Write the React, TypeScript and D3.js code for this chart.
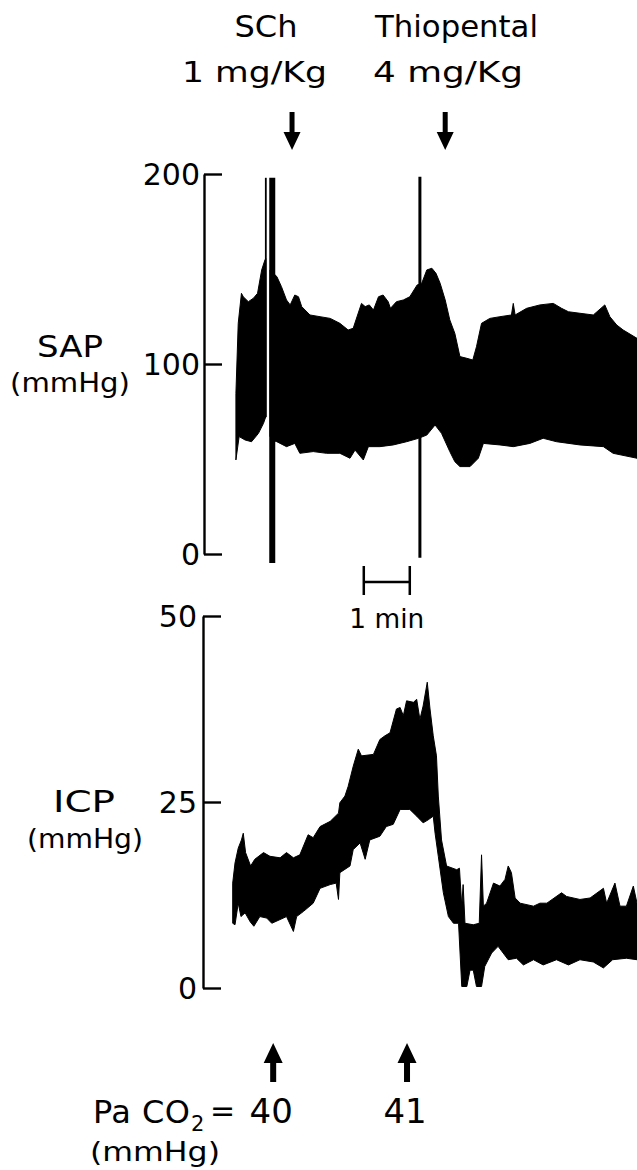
import * as d3 from "d3";
import React, { useEffect, useRef } from "react";

// time is minutes from the start of the recording, pressures in mmHg
const sapUpper: [number, number][] = [
  [0.02, 84.6], [0.07, 121.4], [0.14, 137.2], [0.18, 135.4], [0.29, 132.8],
  [0.4, 134.6], [0.49, 137.2], [0.58, 149.5], [0.65, 154.7], [0.67, 155.5],
  [0.76, 149.5], [0.91, 146.0], [1.01, 140.7], [1.12, 133.7], [1.2, 131.1],
  [1.3, 136.3], [1.38, 135.4], [1.45, 130.2], [1.63, 125.8], [1.85, 124.9],
  [2.07, 124.0], [2.28, 121.4], [2.46, 117.9], [2.57, 118.8], [2.63, 123.2],
  [2.75, 131.9], [2.83, 130.2], [2.92, 131.1], [3.01, 128.4], [3.12, 135.4],
  [3.22, 136.3], [3.33, 132.8], [3.38, 129.3], [3.51, 132.8], [3.66, 133.7],
  [3.8, 135.4], [3.96, 141.6], [4.06, 142.5], [4.17, 149.5], [4.28, 150.4],
  [4.37, 147.7], [4.46, 142.5], [4.57, 133.7], [4.67, 123.2], [4.78, 116.1],
  [4.89, 103.9], [5.04, 103.0], [5.17, 102.1], [5.25, 109.1], [5.36, 121.4],
  [5.54, 124.0], [5.76, 124.9], [6.01, 125.8], [6.05, 131.9], [6.09, 125.8],
  [6.34, 129.3], [6.63, 131.1], [6.92, 131.9], [7.1, 129.3], [7.25, 127.5],
  [7.5, 126.7], [7.79, 125.8], [8.04, 131.1], [8.15, 124.9], [8.3, 120.5],
  [8.44, 117.9], [8.74, 113.5],
];

const sapLower: [number, number][] = [
  [0.02, 49.5], [0.09, 61.8], [0.22, 60.0], [0.36, 59.1], [0.51, 63.5],
  [0.62, 68.8], [0.67, 72.3],
  [0.76, 62.0], [0.8, 60.0], [0.91, 59.1], [1.12, 56.5], [1.3, 58.2],
  [1.41, 53.0], [1.7, 53.9], [1.99, 53.0], [2.28, 53.0], [2.5, 50.4],
  [2.61, 54.7], [2.79, 49.5], [2.9, 56.5], [3.15, 56.5], [3.44, 57.4],
  [3.73, 59.1], [3.99, 60.9], [4.17, 62.6], [4.35, 67.9], [4.49, 63.5],
  [4.67, 53.9], [4.78, 48.6], [4.89, 46.0], [5.11, 46.0], [5.29, 50.4],
  [5.4, 58.2], [5.76, 57.4], [6.05, 56.5], [6.41, 58.2], [6.7, 60.9],
  [6.99, 59.1], [7.5, 57.4], [8.01, 56.5], [8.22, 53.0], [8.74, 50.4],
];

// gap in the SAP trace where the pen lifted at the SCh artefact
const sapGap = [0.67, 0.76];

// artefact spikes on the SAP trace
const sapSpikeTimes = [0.67, 0.81, 4.02];
const sapSpikeLow = [72, -4.7, -2];
const sapSpikeHigh = [198, 198, 198.5];

const icpUpper: [number, number][] = [
  [-0.05, 14.1], [0.0, 16.8], [0.07, 18.8], [0.14, 19.9], [0.18, 20.8],
  [0.23, 18.2], [0.34, 16.4], [0.43, 17.3], [0.62, 18.2], [0.76, 17.7],
  [0.98, 17.5], [1.12, 18.2], [1.27, 17.5], [1.41, 17.9], [1.59, 20.6],
  [1.7, 20.2], [1.85, 21.7], [2.07, 22.4], [2.25, 23.5], [2.28, 24.9],
  [2.39, 25.8], [2.46, 27.1], [2.57, 29.8], [2.68, 32.1], [2.75, 31.2],
  [3.01, 31.4], [3.15, 33.4], [3.26, 33.9], [3.37, 34.3], [3.51, 37.5],
  [3.59, 37.7], [3.66, 36.6], [3.73, 38.6], [3.88, 38.4], [3.95, 38.8],
  [4.02, 36.1], [4.09, 37.9], [4.18, 41.1], [4.24, 37.5], [4.31, 33.9],
  [4.38, 31.2], [4.42, 25.8], [4.49, 19.9], [4.6, 16.4], [4.82, 15.9],
  [4.88, 16.1], [4.93, 11.0], [4.96, 13.9], [5.0, 8.7], [5.18, 8.5],
  [5.31, 8.7], [5.36, 17.9], [5.4, 11.0], [5.47, 11.4], [5.62, 14.1],
  [5.76, 13.7], [5.87, 14.6], [5.94, 16.4], [6.01, 15.5], [6.09, 12.1],
  [6.2, 11.4], [6.49, 11.0], [6.63, 11.4], [6.78, 11.4], [7.1, 12.8],
  [7.21, 12.3], [7.5, 11.9], [7.72, 12.1], [8.01, 13.4], [8.08, 11.4],
  [8.26, 14.1], [8.37, 11.0], [8.51, 11.0], [8.66, 13.7], [8.74, 11.4],
];

const icpLower: [number, number][] = [
  [-0.05, 8.7], [0.0, 8.5], [0.07, 11.4], [0.13, 9.6], [0.22, 10.1],
  [0.33, 8.9], [0.41, 8.3], [0.54, 9.6], [0.69, 9.4], [0.8, 8.7],
  [0.98, 9.2], [1.12, 9.6], [1.27, 7.6], [1.34, 9.6], [1.49, 10.3],
  [1.7, 11.4], [1.85, 13.4], [2.07, 13.9], [2.2, 14.1], [2.25, 11.9],
  [2.28, 15.5], [2.5, 16.4], [2.57, 18.6], [2.72, 19.5], [2.83, 17.3],
  [2.93, 19.9], [3.15, 20.4], [3.29, 21.7], [3.44, 22.0], [3.59, 24.0],
  [3.8, 24.0], [3.95, 23.1], [4.09, 22.2], [4.2, 22.6], [4.31, 23.1],
  [4.35, 20.8], [4.42, 17.7], [4.53, 12.8], [4.64, 9.6], [4.75, 8.7],
  [4.86, 8.7], [4.93, 0.2], [5.04, 0.2], [5.11, 2.4], [5.18, 2.4],
  [5.25, 0.2], [5.36, 0.2], [5.43, 2.9], [5.58, 4.7], [5.72, 5.6],
  [5.83, 4.7], [5.94, 3.8], [6.12, 4.0], [6.27, 3.1], [6.49, 3.8],
  [6.7, 3.1], [6.99, 3.8], [7.25, 3.1], [7.5, 3.8], [7.79, 3.5],
  [8.01, 2.7], [8.21, 3.8], [8.51, 4.0], [8.74, 3.8],
];

const sapTicks = [0, 100, 200];
const icpTicks = [0, 25, 50];

// drug injections (arrows on top)
const drugTimes = [1.24, 4.57];
// arterial blood gas samples (arrows at bottom)
const paco2Times = [0.83, 3.74];
const paco2Values = ["40", "41"];

const scaleBarStart = 2.8;
const scaleBarMinutes = 1;

const W = 637;
const H = 1170;
const FONT = "DejaVu Sans";

const App = () => {
  const ref = useRef<SVGSVGElement>(null);

  useEffect(() => {
    const svg = d3.select(ref.current);
    svg.selectAll("*").remove();

    const x = d3.scaleLinear().domain([0, 8.74]).range([235, 637]);
    const ySap = d3.scaleLinear().domain([0, 200]).range([554, 174]);
    const yIcp = d3.scaleLinear().domain([0, 50]).range([988, 616]);

    const band = (y, upper, lower) =>
      d3
        .line<[number, number]>()
        .x((d) => x(d[0]))
        .y((d) => y(d[1]))([...upper, ...lower.slice().reverse()]) + "Z";

    // SAP trace, split at the pen gap
    const before = (arr) => arr.filter((d) => d[0] <= sapGap[0]);
    const after = (arr) => arr.filter((d) => d[0] >= sapGap[1]);
    const gTrace = svg.append("g").attr("fill", "black").attr("stroke", "black").attr("stroke-width", 1);
    gTrace.append("path").attr("d", band(ySap, before(sapUpper), before(sapLower)));
    gTrace.append("path").attr("d", band(ySap, after(sapUpper), after(sapLower)));
    gTrace.append("path").attr("d", band(yIcp, icpUpper, icpLower));

    const spikeWidths = [1.8, 6, 3];
    svg
      .append("g")
      .selectAll("line")
      .data(sapSpikeTimes)
      .join("line")
      .attr("x1", (d) => x(d))
      .attr("x2", (d) => x(d))
      .attr("y1", (d, i) => ySap(sapSpikeHigh[i]))
      .attr("y2", (d, i) => ySap(sapSpikeLow[i]))
      .attr("stroke", "black")
      .attr("stroke-width", (d, i) => spikeWidths[i]);

    // axes
    const drawAxis = (y, ticks, left, pad) => {
      const axis = d3
        .axisLeft(y)
        .tickValues(ticks)
        .tickFormat(d3.format("d"))
        .tickSizeInner(-18)
        .tickSizeOuter(0)
        .tickPadding(pad);
      const g = svg.append("g").attr("transform", `translate(${left},0)`).call(axis);
      g.attr("font-family", FONT).attr("font-size", 30);
      g.select(".domain").attr("stroke-width", 2.4);
      g.selectAll(".tick line").attr("stroke-width", 2.4);
      g.selectAll(".tick text").attr("fill", "black").attr("dy", "0.36em");
    };
    drawAxis(ySap, sapTicks, 204, 4);
    drawAxis(yIcp, icpTicks, 203, 6);

    const text = (str, tx, ty, size, len, anchor = "middle", adjust = "spacingAndGlyphs") => {
      const t = svg
        .append("text")
        .attr("x", tx)
        .attr("y", ty)
        .attr("font-family", FONT)
        .attr("font-size", size)
        .attr("text-anchor", anchor)
        .attr("fill", "black")
        .text(str);
      if (len) t.attr("textLength", len).attr("lengthAdjust", adjust);
      return t;
    };

    // drug labels
    text("SCh", 266, 37, 30, 63);
    text("1 mg/Kg", 254.5, 82, 28, 145);
    text("Thiopental", 456.5, 37, 30, 163);
    text("4 mg/Kg", 448, 82, 28, 150);

    // channel labels
    text("SAP", 70, 357, 30, 66);
    text("(mmHg)", 70, 392, 26, 120);
    text("ICP", 84, 812, 30, 62);
    text("(mmHg)", 85, 848, 26, 116);

    const arrow = (cx, tip, tail, dir, headW, headH, shaftW) => {
      const s = dir; // +1 points down, -1 points up
      const hb = tip - s * headH;
      const pts: [number, number][] = [
        [cx, tip],
        [cx + headW / 2, hb],
        [cx + shaftW / 2, hb],
        [cx + shaftW / 2, tail],
        [cx - shaftW / 2, tail],
        [cx - shaftW / 2, hb],
        [cx - headW / 2, hb],
      ];
      svg.append("path").attr("d", d3.line()(pts) + "Z").attr("fill", "black");
    };
    drugTimes.forEach((t) => arrow(x(t), 150, 112, 1, 17, 18, 5));
    paco2Times.forEach((t) => arrow(x(t), 1043, 1082, -1, 19, 20, 6));

    // time scale bar
    const x0 = x(scaleBarStart);
    const x1 = x(scaleBarStart + scaleBarMinutes);
    const gBar = svg.append("g").attr("stroke", "black").attr("stroke-width", 2.5);
    gBar.append("line").attr("x1", x0).attr("x2", x1).attr("y1", 582).attr("y2", 582);
    gBar.append("line").attr("x1", x0).attr("x2", x0).attr("y1", 566).attr("y2", 595);
    gBar.append("line").attr("x1", x1).attr("x2", x1).attr("y1", 566).attr("y2", 595);
    text("1 min", (x0 + x1) / 2, 628, 27, 75);

    // PaCO2 row
    text("Pa CO", 93, 1123, 32, 97, "start", "spacing");
    text("2", 191, 1131, 21, null, "start");
    text("=", 210, 1121, 30, null, "start");
    paco2Values.forEach((v, i) => text(v, x(paco2Times[i]) - 2, 1123, 34, null));
    text("(mmHg)", 155, 1161, 27, 130);
  }, []);

  return (
    <svg
      ref={ref}
      width={W}
      height={H}
      style={{ position: "absolute", left: 0, top: 0, background: "white" }}
    />
  );
};

export default App;
